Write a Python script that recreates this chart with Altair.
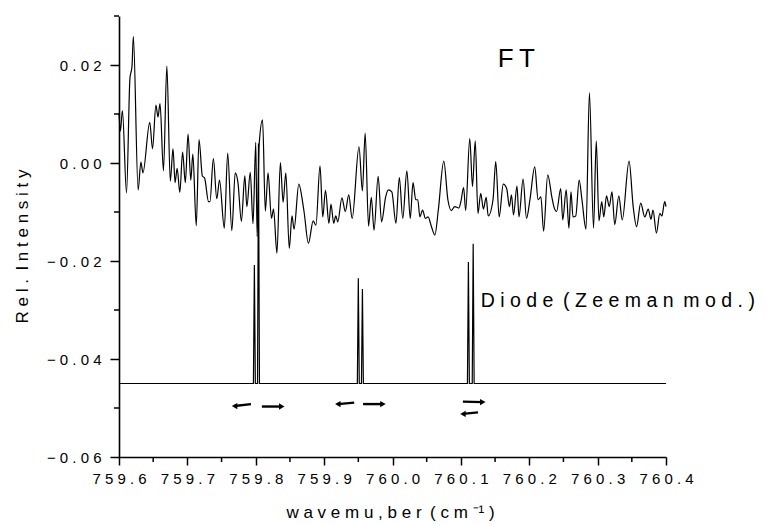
import altair as alt
import pandas as pd

# ---------------- data ----------------
ft_x = [759.600, 759.602, 759.605, 759.611, 759.616, 759.619, 759.621, 759.628, 759.632, 759.635,
        759.645, 759.649, 759.654, 759.657, 759.660, 759.665, 759.670, 759.675, 759.679, 759.682,
        759.685, 759.689, 759.693, 759.697, 759.701, 759.705, 759.708, 759.713, 759.717, 759.722,
        759.725, 759.731, 759.733, 759.738, 759.743, 759.747, 759.754, 759.759, 759.765, 759.770,
        759.774, 759.779, 759.784, 759.787, 759.792, 759.796, 759.800, 759.802, 759.805, 759.810,
        759.814, 759.818, 759.823, 759.826, 759.831, 759.836, 759.840, 759.844, 759.849, 759.853,
        759.856, 759.863, 759.869, 759.871, 759.877, 759.884, 759.888, 759.894, 759.898, 759.902,
        759.907, 759.910, 759.914, 759.917, 759.920, 759.926, 759.931, 759.936, 759.941, 759.951,
        759.956, 759.960, 759.965, 759.969, 759.973, 759.979, 759.984, 759.990, 759.994, 759.999,
        760.005, 760.010, 760.015, 760.021, 760.026, 760.030, 760.034, 760.037, 760.040, 760.044,
        760.048, 760.052, 760.057, 760.062, 760.067, 760.075, 760.081, 760.086, 760.091, 760.097,
        760.100, 760.104, 760.107, 760.113, 760.117, 760.121, 760.125, 760.129, 760.133, 760.137,
        760.140, 760.147, 760.151, 760.156, 760.162, 760.167, 760.171, 760.174, 760.177, 760.182,
        760.185, 760.191, 760.196, 760.201, 760.208, 760.213, 760.217, 760.221, 760.227, 760.233,
        760.236, 760.240, 760.246, 760.249, 760.254, 760.258, 760.261, 760.264, 760.268, 760.273,
        760.277, 760.283, 760.288, 760.294, 760.298, 760.302, 760.306, 760.309, 760.313, 760.317,
        760.321, 760.325, 760.331, 760.336, 760.346, 760.352, 760.357, 760.363, 760.369, 760.374,
        760.378, 760.381, 760.386, 760.391, 760.394, 760.398, 760.400]
ft_y = [0.0102, 0.0065, 0.0107, -0.0061, 0.0173, 0.0197, 0.0258, -0.0055, 0.0002, -0.0020,
        0.0083, 0.0029, 0.0118, 0.0094, 0.0121, -0.0016, 0.0198, -0.0037, 0.0029, -0.0040,
        -0.0011, -0.0060, 0.0022, -0.0040, 0.0059, -0.0035, 0.0018, -0.0128, 0.0048, -0.0027,
        -0.0030, -0.0079, -0.0079, 0.0009, -0.0073, -0.0035, -0.0133, 0.0020, -0.0138, -0.0020,
        -0.0040, -0.0119, -0.0026, -0.0089, -0.0019, -0.0124, 0.0042, -0.0150, 0.0038, 0.0088,
        -0.0098, -0.0020, -0.0113, -0.0094, -0.0184, 0.0001, -0.0080, -0.0020, -0.0174, -0.0108,
        -0.0135, -0.0043, -0.0084, -0.0103, -0.0164, -0.0118, -0.0127, -0.0006, -0.0110, -0.0056,
        -0.0123, -0.0084, -0.0123, -0.0108, -0.0120, -0.0071, -0.0099, -0.0065, -0.0113, 0.0033,
        -0.0057, 0.0061, -0.0129, -0.0070, -0.0137, -0.0027, -0.0120, -0.0069, -0.0055, -0.0059,
        -0.0123, -0.0030, -0.0113, -0.0016, -0.0113, -0.0040, -0.0075, -0.0075, -0.0110, -0.0096,
        -0.0113, -0.0110, -0.0130, -0.0147, -0.0096, 0.0004, -0.0075, -0.0097, -0.0089, -0.0092,
        -0.0079, -0.0050, -0.0097, 0.0050, -0.0048, 0.0045, -0.0103, -0.0062, -0.0094, -0.0070,
        -0.0108, -0.0075, 0.0003, -0.0110, -0.0043, -0.0052, -0.0089, -0.0065, -0.0106, -0.0047,
        -0.0110, -0.0033, -0.0113, -0.0075, -0.0008, -0.0075, -0.0069, -0.0139, -0.0024, -0.0069,
        -0.0089, -0.0099, -0.0052, -0.0116, -0.0055, -0.0133, -0.0059, -0.0110, -0.0108, -0.0035,
        -0.0074, -0.0135, 0.0143, -0.0133, 0.0045, -0.0118, -0.0079, -0.0110, -0.0067, -0.0089,
        -0.0059, -0.0126, -0.0067, -0.0116, 0.0004, -0.0089, -0.0130, -0.0082, -0.0110, -0.0094,
        -0.0115, -0.0096, -0.0143, -0.0103, -0.0108, -0.0079, -0.0089]

diode_x = [759.600,
           759.7966, 759.7980, 759.7994,
           759.8026, 759.8040, 759.8054,
           759.9486, 759.9500, 759.9514,
           759.9546, 759.9560, 759.9574,
           760.1096, 760.1110, 760.1124,
           760.1166, 760.1180, 760.1194,
           760.400]
diode_y = [-0.045,
           -0.045, -0.0208, -0.045,
           -0.045, 0.0040, -0.045,
           -0.045, -0.0235, -0.045,
           -0.045, -0.0257, -0.045,
           -0.045, -0.0202, -0.045,
           -0.045, -0.0165, -0.045,
           -0.045]

# Zeeman arrows: tail -> head
arrow_tail_x = [759.793, 759.809, 759.944, 759.957, 760.103, 760.125]
arrow_tail_y = [-0.0492, -0.0497, -0.0489, -0.0492, -0.0487, -0.0509]
arrow_head_x = [759.769, 759.838, 759.920, 759.986, 760.132, 760.103]
arrow_head_y = [-0.0496, -0.0497, -0.0492, -0.0492, -0.0488, -0.0512]
arrow_dir = ["left", "right", "left", "right", "right", "left"]

EN = "\u2002"
label_text = ["F\u2009T", "D i o d e" + EN + "( Z e e m a n" + EN + "m o d . )"]
label_x = [760.154, 760.129]
label_y = [0.0196, -0.0293]
label_size = [26, 19.5]

x_major = [759.6, 759.7, 759.8, 759.9, 760.0, 760.1, 760.2, 760.3, 760.4]
x_minor = [759.65, 759.75, 759.85, 759.95, 760.05, 760.15, 760.25, 760.35]
y_major = [-0.06, -0.04, -0.02, 0.0, 0.02]
y_minor = [-0.05, -0.03, -0.01, 0.01, 0.03]

x_title = "w a v e m u , b e r" + EN + "( c m ⁻¹ )"
y_title = "R e l ." + EN + "I n t e n s i t y"

# ---------------- tables ----------------
ft = pd.DataFrame({"x": ft_x, "y": ft_y})
diode = pd.DataFrame({"x": diode_x, "y": diode_y})
arrows = pd.DataFrame({"x": arrow_tail_x, "y": arrow_tail_y,
                       "x2": arrow_head_x, "y2": arrow_head_y, "dir": arrow_dir})
labels = pd.DataFrame({"x": label_x, "y": label_y, "t": label_text, "s": label_size})
xminor_df = pd.DataFrame({"v": x_minor})
yminor_df = pd.DataFrame({"v": y_minor})

FONT = "Liberation Sans"
PLOT_W, PLOT_H = 547, 441
xs = alt.Scale(domain=[759.6, 760.4], nice=False, zero=False)
ys = alt.Scale(domain=[-0.06, 0.03], nice=False, zero=False)

x_axis = alt.Axis(values=x_major, orient="bottom", tickSize=8,
                  labelPadding=6, labelFlush=False, labelOverlap=False,
                  labelExpr="join(split(format(datum.value, '.1f'), ''), ' ')",
                  title=x_title, titleX=271, titleY=60, titleAnchor="middle",
                  titleAlign="center", titleBaseline="alphabetic",
                  titleFontSize=17, titleFont=FONT, titleFontWeight="normal")
y_axis = alt.Axis(values=y_major, orient="left", tickSize=9,
                  labelPadding=9, labelFlush=False, labelOverlap=False,
                  labelExpr="join(split(format(datum.value, '.2f'), ''), ' ')",
                  title=y_title, titleX=-92, titleY=230, titleAngle=270,
                  titleAlign="center", titleBaseline="alphabetic",
                  titleFontSize=17, titleFont=FONT, titleFontWeight="normal")

ft_line = alt.Chart(ft).mark_line(color="black", strokeWidth=1.2, interpolate="monotone").encode(
    x=alt.X("x:Q", scale=xs, axis=x_axis),
    y=alt.Y("y:Q", scale=ys, axis=y_axis),
)

diode_line = alt.Chart(diode).mark_line(color="black", strokeWidth=1.2).encode(
    x=alt.X("x:Q", scale=xs),
    y=alt.Y("y:Q", scale=ys),
)

# minor ticks (outside the plot, 5 px long)
x_minor_ticks = alt.Chart(xminor_df).mark_rule(color="black", strokeWidth=1.5).encode(
    x=alt.X("v:Q", scale=xs),
    y=alt.value(PLOT_H),
    y2=alt.value(PLOT_H + 5),
)
y_minor_ticks = alt.Chart(yminor_df).mark_rule(color="black", strokeWidth=1.5).encode(
    y=alt.Y("v:Q", scale=ys),
    x=alt.value(0),
    x2=alt.value(-5),
)

arrow_shafts = alt.Chart(arrows).mark_rule(color="black", strokeWidth=2.4).encode(
    x=alt.X("x:Q", scale=xs),
    y=alt.Y("y:Q", scale=ys),
    x2="x2:Q",
    y2="y2:Q",
)

arrow_heads = alt.Chart(arrows).mark_point(filled=True, color="black", opacity=1, size=40).encode(
    x=alt.X("x2:Q", scale=xs),
    y=alt.Y("y2:Q", scale=ys),
    shape=alt.Shape("dir:N", scale=alt.Scale(domain=["left", "right"],
                                             range=["triangle-left", "triangle-right"]),
                    legend=None),
)

texts = alt.Chart(labels).mark_text(align="left", baseline="alphabetic", font=FONT,
                                    color="black").encode(
    x=alt.X("x:Q", scale=xs),
    y=alt.Y("y:Q", scale=ys),
    text="t:N",
    size=alt.Size("s:Q", scale=None, legend=None),
)

chart = alt.layer(ft_line, diode_line, x_minor_ticks, y_minor_ticks,
                  arrow_shafts, arrow_heads, texts).properties(
    width=PLOT_W, height=PLOT_H,
    autosize=alt.AutoSizeParams(type="none"),
    padding={"left": 111, "top": 8, "right": 92, "bottom": 64},
    background="white",
).configure_view(stroke=None).configure_axis(
    labelFont=FONT, labelFontSize=15, labelColor="black",
    domainColor="black", domainWidth=1.6, tickColor="black", tickWidth=1.5,
    grid=False, titleColor="black",
)

chart.save("out.html", embed_options={"renderer": "svg", "actions": False})
